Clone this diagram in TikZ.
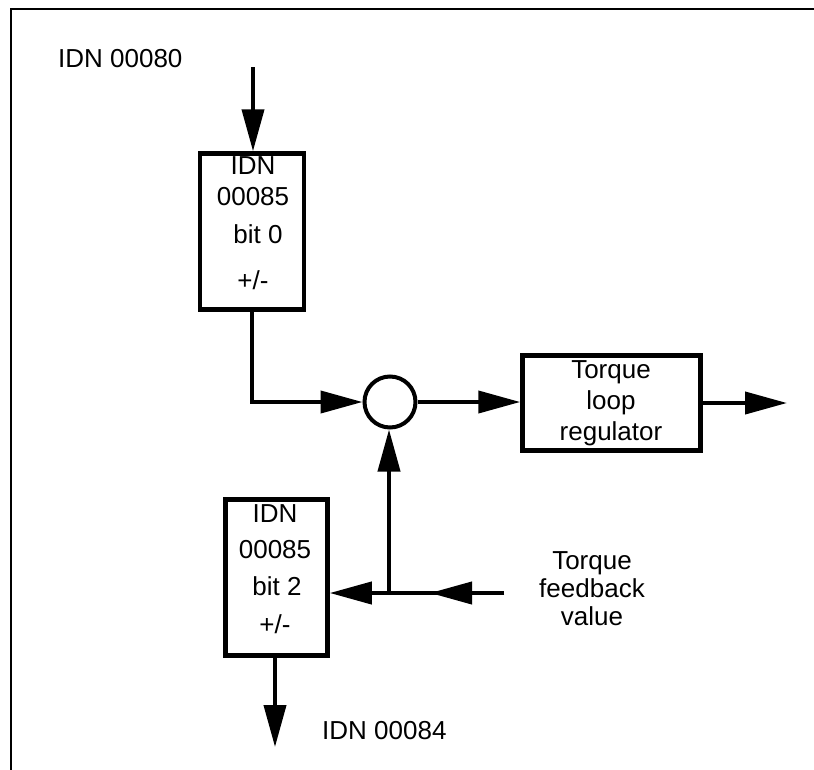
\documentclass[tikz,border=0pt]{standalone}
\usepackage{fontspec}
\setmainfont{Liberation Sans}
\usetikzlibrary{arrows.meta}
\begin{document}
\begin{tikzpicture}[x=1pt,y=-1pt,
  txt/.style={inner sep=0pt,font=\fontsize{26}{30}\selectfont,align=center},
  blk/.style={draw,line width=4.5pt,rectangle,inner sep=0pt},
  sumc/.style={draw,line width=4pt,circle,inner sep=0pt,minimum size=51pt},
  conn/.style={line width=4pt},
  arr/.style={conn,-{Triangle[length=42pt,width=22pt]}}]
\useasboundingbox (0,0) rectangle (814,769);
\fill[white] (0,0) rectangle (814,769);
\begin{scope}
\clip (0,0) rectangle (814,769);
\draw[line width=2.5pt] (11,9) rectangle (900,900);
\end{scope}
% blocks
\node[blk,minimum width=104pt,minimum height=156pt] (b1) at (252,231.5) {};
\node[blk,minimum width=102pt,minimum height=156pt] (b2) at (276.5,577.5) {};
\node[blk,minimum width=178pt,minimum height=95pt] (reg) at (611.5,403) {};
\node[sumc] (sum) at (390,402) {};
% texts
\node[txt,anchor=north west] (l80) at (58,49) {IDN 00080};
\node[txt,anchor=north west] (l84) at (322,721) {IDN 00084};
\node[txt,anchor=north] (t1) at (253,156) {IDN\\[1pt]00085\\[8pt]\hspace{10pt}bit 0\\[16pt]+/-};
\node[txt,anchor=north] (t2) at (275,504) {IDN\\[6pt]00085\\[7pt]\hspace{4pt}bit 2\\[8pt]+/-};
\node[txt,anchor=north,font=\fontsize{26}{31}\selectfont] (treg) at (611,360) {Torque\\loop\\regulator};
\node[txt,anchor=north,font=\fontsize{26}{28}\selectfont] (tfb) at (592,551) {Torque\\feedback\\value};
% coordinates
\coordinate (in0) at (253,67);
\coordinate (out) at (787,403);
\coordinate (fb) at (504,593);
\coordinate (m) at (430,593);
\coordinate (jn) at (389,593);
\coordinate (out2) at (275,747);
% connectors
\draw[arr] (in0) -- (in0 |- b1.north);
\draw[arr] (b1.south) |- (sum.west);
\draw[arr] (sum.east) -- (sum.east -| reg.west);
\draw[arr] (reg.east) -- (out);
\draw[conn] (fb) -- (jn);
\draw[arr] (fb) -- (m);
\draw[arr] (jn) -- (jn -| b2.east);
\draw[arr] (jn) -- (jn |- sum.south);
\draw[arr] (out2 |- b2.south) -- (out2);
\end{tikzpicture}
\end{document}
